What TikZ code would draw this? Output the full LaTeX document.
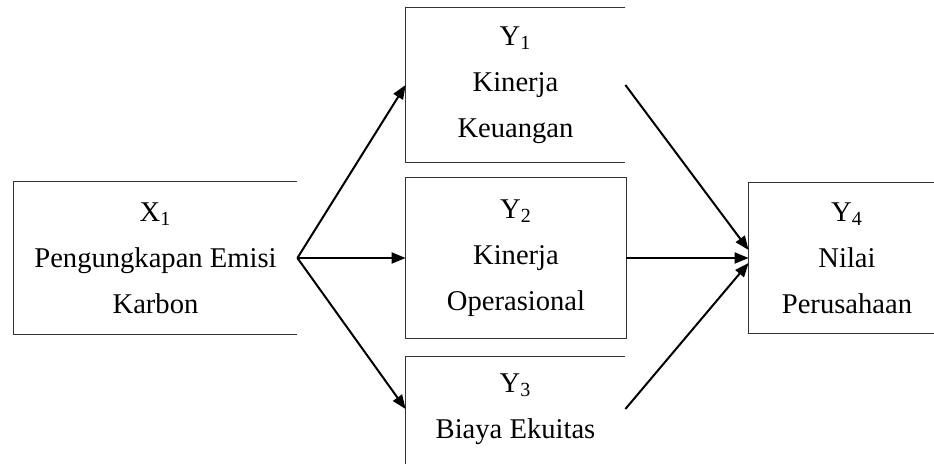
\documentclass[tikz,border=0pt]{standalone}
\usepackage{fontspec}
\setmainfont{Liberation Serif}
\usetikzlibrary{arrows.meta}

\begin{document}
\begin{tikzpicture}[x=0.5pt,y=-0.5pt,
    kotak/.style={inner sep=0pt,align=center,font=\fontsize{14.3}{23}\selectfont},
    garis/.style={line width=0.6pt,black!80},
    panah/.style={-{Triangle[length=7pt,width=5.5pt]},line width=1pt}]
    \useasboundingbox (0,0) rectangle (934,464);
    \clip (0,0) rectangle (934,464);

    % variabel
    \node[kotak,minimum width=141.5pt,minimum height=76pt] (x1) at (155.5,258)
        {X\textsubscript{1}\\Pengungkapan Emisi\\Karbon};
    \node[kotak,minimum width=109.5pt,minimum height=77pt] (y1) at (515.5,85)
        {Y\textsubscript{1}\\Kinerja\\Keuangan};
    \node[kotak,minimum width=110pt,minimum height=80pt] (y2) at (516,258)
        {Y\textsubscript{2}\\Kinerja\\Operasional};
    \node[kotak,minimum width=109.5pt,minimum height=52pt] (y3) at (515.5,409)
        {Y\textsubscript{3}\\Biaya Ekuitas};
    \node[kotak,minimum width=98pt,minimum height=75pt] (y4) at (847,258)
        {Y\textsubscript{4}\\Nilai\\Perusahaan};

    % kotak
    \draw[garis] (x1.north east) -- (x1.north west) -- (x1.south west) -- (x1.south east);
    \draw[garis] (y1.north east) -- (y1.north west) -- (y1.south west) -- (y1.south east);
    \draw[garis] (y2.south west) rectangle (y2.north east);
    \draw[garis] (y3.north east) -- (y3.north west) -- ([yshift=-20pt]y3.south west);
    \draw[garis] (y4.north east) -- (y4.north west) -- (y4.south west) -- (y4.south east);

    % panah
    \draw[panah] (x1.east) -- (y1.west);
    \draw[panah] (x1.east) -- (y2.west);
    \draw[panah] (x1.east) -- (y3.west);
    \draw[panah] (y1.east) -- ([yshift=4pt]y4.west);
    \draw[panah] (y2.east) -- (y4.west);
    \draw[panah] (y3.east) -- ([yshift=-2.5pt]y4.west);
\end{tikzpicture}
\end{document}
